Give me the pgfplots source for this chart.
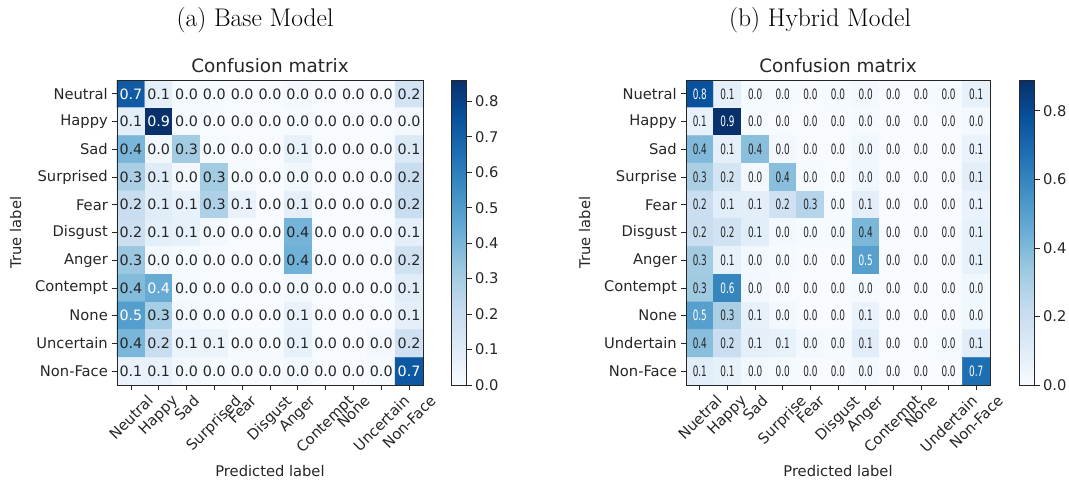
\documentclass[border=0pt]{standalone}
\usepackage{fontspec}
\usepackage{graphicx}
\usepackage{pgfplots}
\pgfplotsset{compat=1.18}
\usepackage{pgfplotstable}
\newfontfamily\dv{DejaVu Sans}
\newfontfamily\dvc[FakeStretch=0.62]{DejaVu Sans}
\definecolor{txt}{RGB}{38,38,38}
\newcommand\tf{\dv\fontsize{14.7}{17}\selectfont}
\newcommand\ttf{\dv\fontsize{18.4}{21}\selectfont}
\newcommand\rl[1]{\rotatebox{45}{#1}}
\newcommand\cellnum[1]{%
  \pgfkeys{/pgf/number format/.cd,fixed,fixed zerofill,precision=2,assume math mode=true}%
  \pgfmathprintnumberto{\pgfplotspointmeta}{\cv}%
  \ifdim\cv pt>#1pt\relax\color{white}\else\color{txt}\fi
  \pgfmathprintnumber[precision=1]{\pgfplotspointmeta}}
\pgfplotsset{colormap={blues}{rgb255=(247,251,255) rgb255=(222,235,247) rgb255=(198,219,239) rgb255=(158,202,225) rgb255=(107,174,214) rgb255=(66,146,198) rgb255=(33,113,181) rgb255=(8,81,156) rgb255=(8,48,107)}}
\pgfplotsset{cm/.style={scale only axis, height=305pt,
  xmin=-0.5, xmax=10.5, ymin=-0.5, ymax=10.5, y dir=reverse, enlargelimits=false, axis on top,
  xtick={0,...,10}, ytick={0,...,10}, tick align=outside, major tick length=5pt,
  xtick pos=left, ytick pos=left,
  tick style={draw=txt, line width=0.8pt}, axis line style={draw=txt, line width=0.8pt},
  ticklabel style={font=\tf, text=txt},
  xticklabel style={anchor=north, inner sep=0pt, yshift=-4pt},
  yticklabel style={anchor=east, inner sep=0pt, xshift=-4pt},
  label style={font=\tf, text=txt},
  title style={font=\ttf, text=txt, at={(axis description cs:0.5,1)}, anchor=base, yshift=2pt},
  xlabel style={at={(axis description cs:0.5,-0.3016)}, anchor=base},
  title=Confusion matrix, xlabel=Predicted label, ylabel=True label,
  colormap name=blues, colorbar, point meta min=0}}
\pgfplotstableread[row sep=\\]{
x y v\\
0 0 0.72\\ 1 0 0.08\\ 2 0 0.01\\ 3 0 0.01\\ 4 0 0\\ 5 0 0\\ 6 0 0.02\\ 7 0 0\\ 8 0 0\\ 9 0 0\\ 10 0 0.16\\
0 1 0.09\\ 1 1 0.86\\ 2 1 0.01\\ 3 1 0\\ 4 1 0\\ 5 1 0\\ 6 1 0.01\\ 7 1 0\\ 8 1 0\\ 9 1 0\\ 10 1 0.02\\
0 2 0.40\\ 1 2 0.03\\ 2 2 0.31\\ 3 2 0.01\\ 4 2 0\\ 5 2 0\\ 6 2 0.07\\ 7 2 0\\ 8 2 0\\ 9 2 0\\ 10 2 0.12\\
0 3 0.29\\ 1 3 0.10\\ 2 3 0.02\\ 3 3 0.31\\ 4 3 0.01\\ 5 3 0\\ 6 3 0.03\\ 7 3 0\\ 8 3 0\\ 9 3 0\\ 10 3 0.20\\
0 4 0.20\\ 1 4 0.10\\ 2 4 0.07\\ 3 4 0.28\\ 4 4 0.06\\ 5 4 0\\ 6 4 0.08\\ 7 4 0\\ 8 4 0\\ 9 4 0\\ 10 4 0.20\\
0 5 0.19\\ 1 5 0.09\\ 2 5 0.07\\ 3 5 0.02\\ 4 5 0\\ 5 5 0\\ 6 5 0.41\\ 7 5 0\\ 8 5 0\\ 9 5 0\\ 10 5 0.08\\
0 6 0.33\\ 1 6 0.02\\ 2 6 0.01\\ 3 6 0\\ 4 6 0\\ 5 6 0\\ 6 6 0.42\\ 7 6 0\\ 8 6 0\\ 9 6 0\\ 10 6 0.17\\
0 7 0.38\\ 1 7 0.44\\ 2 7 0.01\\ 3 7 0\\ 4 7 0\\ 5 7 0\\ 6 7 0.02\\ 7 7 0\\ 8 7 0\\ 9 7 0\\ 10 7 0.10\\
0 8 0.49\\ 1 8 0.30\\ 2 8 0.02\\ 3 8 0.01\\ 4 8 0\\ 5 8 0\\ 6 8 0.06\\ 7 8 0\\ 8 8 0\\ 9 8 0\\ 10 8 0.08\\
0 9 0.40\\ 1 9 0.20\\ 2 9 0.05\\ 3 9 0.05\\ 4 9 0.01\\ 5 9 0.01\\ 6 9 0.07\\ 7 9 0\\ 8 9 0\\ 9 9 0.02\\ 10 9 0.18\\
0 10 0.06\\ 1 10 0.06\\ 2 10 0.02\\ 3 10 0.01\\ 4 10 0\\ 5 10 0\\ 6 10 0.02\\ 7 10 0\\ 8 10 0\\ 9 10 0.01\\ 10 10 0.73\\
}\basedata
\pgfplotstableread[row sep=\\]{
x y v\\
0 0 0.78\\ 1 0 0.08\\ 2 0 0.01\\ 3 0 0.01\\ 4 0 0\\ 5 0 0.01\\ 6 0 0.02\\ 7 0 0\\ 8 0 0\\ 9 0 0.01\\ 10 0 0.07\\
0 1 0.07\\ 1 1 0.89\\ 2 1 0.01\\ 3 1 0\\ 4 1 0\\ 5 1 0\\ 6 1 0.01\\ 7 1 0\\ 8 1 0\\ 9 1 0\\ 10 1 0.02\\
0 2 0.40\\ 1 2 0.08\\ 2 2 0.38\\ 3 2 0.02\\ 4 2 0\\ 5 2 0\\ 6 2 0.03\\ 7 2 0\\ 8 2 0\\ 9 2 0\\ 10 2 0.06\\
0 3 0.30\\ 1 3 0.16\\ 2 3 0.02\\ 3 3 0.38\\ 4 3 0.01\\ 5 3 0\\ 6 3 0.03\\ 7 3 0\\ 8 3 0\\ 9 3 0\\ 10 3 0.09\\
0 4 0.20\\ 1 4 0.10\\ 2 4 0.09\\ 3 4 0.18\\ 4 4 0.27\\ 5 4 0.01\\ 6 4 0.09\\ 7 4 0\\ 8 4 0\\ 9 4 0\\ 10 4 0.06\\
0 5 0.20\\ 1 5 0.17\\ 2 5 0.10\\ 3 5 0.02\\ 4 5 0.01\\ 5 5 0.01\\ 6 5 0.41\\ 7 5 0\\ 8 5 0\\ 9 5 0\\ 10 5 0.07\\
0 6 0.32\\ 1 6 0.07\\ 2 6 0.02\\ 3 6 0.01\\ 4 6 0\\ 5 6 0\\ 6 6 0.50\\ 7 6 0\\ 8 6 0\\ 9 6 0\\ 10 6 0.07\\
0 7 0.33\\ 1 7 0.60\\ 2 7 0.02\\ 3 7 0\\ 4 7 0\\ 5 7 0\\ 6 7 0.01\\ 7 7 0\\ 8 7 0\\ 9 7 0\\ 10 7 0.03\\
0 8 0.50\\ 1 8 0.30\\ 2 8 0.07\\ 3 8 0.02\\ 4 8 0\\ 5 8 0\\ 6 8 0.06\\ 7 8 0\\ 8 8 0\\ 9 8 0\\ 10 8 0.03\\
0 9 0.38\\ 1 9 0.20\\ 2 9 0.08\\ 3 9 0.07\\ 4 9 0.02\\ 5 9 0.01\\ 6 9 0.10\\ 7 9 0\\ 8 9 0\\ 9 9 0.01\\ 10 9 0.10\\
0 10 0.10\\ 1 10 0.07\\ 2 10 0.02\\ 3 10 0.01\\ 4 10 0\\ 5 10 0\\ 6 10 0.02\\ 7 10 0\\ 8 10 0\\ 9 10 0\\ 10 10 0.68\\
}\hybdata
\begin{document}
\begin{tikzpicture}
\useasboundingbox (0,0) rectangle (1069pt,483pt);
\node[font=\rmfamily\fontsize{25.5}{28}\selectfont, anchor=base] at (255pt,456pt) {(a) Base Model};
\node[font=\rmfamily\fontsize{25.5}{28}\selectfont, anchor=base] at (820pt,456pt) {(b) Hybrid Model};
\begin{axis}[cm, width=306pt, at={(117pt,98pt)}, anchor=south west,
  point meta max=0.86,
  ylabel style={at={(axis description cs:-0.3137,0.5)}, anchor=base},
  xticklabels={\rl{Neutral},\rl{Happy},\rl{Sad},\rl{Surprised},\rl{Fear},\rl{Disgust},\rl{Anger},\rl{Contempt},\rl{None},\rl{Uncertain},\rl{Non-Face}},
  yticklabels={Neutral,Happy,Sad,Surprised,Fear,Disgust,Anger,Contempt,None,Uncertain,Non-Face},
  colorbar style={width=15pt, at={(parent axis.north east)}, anchor=north west, xshift=20pt,
    ytick={0,0.1,0.2,0.3,0.4,0.5,0.6,0.7,0.8}, ytick pos=right, tick align=outside, major tick length=5pt,
    tick style={draw=txt, line width=0.8pt}, axis line style={draw=txt, line width=0.8pt},
    yticklabel style={font=\tf, text=txt, /pgf/number format/.cd, fixed, fixed zerofill, precision=1, assume math mode=true}}]
\addplot[matrix plot*, mesh/cols=11, point meta=\thisrow{v}] table[x=x, y=y]{\basedata};
\addplot[draw=none, mark=none, point meta=\thisrow{v},
  every node near coord/.append style={anchor=center, inner sep=0pt, font=\dv\fontsize{14.3}{16}\selectfont},
  nodes near coords={\cellnum{0.43}}]
  table[x=x, y=y]{\basedata};
\end{axis}
\begin{axis}[cm, width=304pt, at={(686pt,98pt)}, anchor=south west,
  point meta max=0.89,
  ylabel style={at={(axis description cs:-0.3158,0.5)}, anchor=base},
  xticklabels={\rl{Nuetral},\rl{Happy},\rl{Sad},\rl{Surprise},\rl{Fear},\rl{Disgust},\rl{Anger},\rl{Contempt},\rl{None},\rl{Undertain},\rl{Non-Face}},
  yticklabels={Nuetral,Happy,Sad,Surprise,Fear,Disgust,Anger,Contempt,None,Undertain,Non-Face},
  colorbar style={width=15pt, at={(parent axis.north east)}, anchor=north west, xshift=21pt,
    ytick={0,0.2,0.4,0.6,0.8}, ytick pos=right, tick align=outside, major tick length=5pt,
    tick style={draw=txt, line width=0.8pt}, axis line style={draw=txt, line width=0.8pt},
    yticklabel style={font=\tf, text=txt, /pgf/number format/.cd, fixed, fixed zerofill, precision=1, assume math mode=true}}]
\addplot[matrix plot*, mesh/cols=11, point meta=\thisrow{v}] table[x=x, y=y]{\hybdata};
\addplot[draw=none, mark=none, point meta=\thisrow{v},
  every node near coord/.append style={anchor=center, inner sep=0pt, font=\dvc\fontsize{14.3}{16}\selectfont},
  nodes near coords={\cellnum{0.445}}]
  table[x=x, y=y]{\hybdata};
\end{axis}
\end{tikzpicture}
\end{document}
